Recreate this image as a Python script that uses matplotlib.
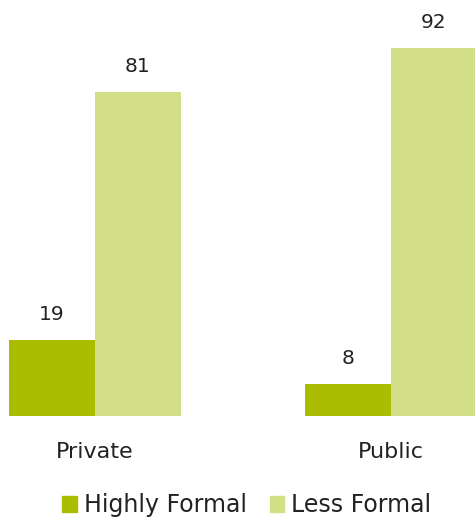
import numpy as np
import matplotlib.pyplot as plt
from matplotlib.patches import Patch

# sector shares by formality level
sectors = ['Private', 'Public']
highly_formal = [19, 8]
less_formal = [81, 92]

dark_green = '#abbd00'
light_green = '#d3df86'

W, H = 475, 523
fig = plt.figure(figsize=(W / 100, H / 100), dpi=100)
base_px = 416
ax = fig.add_axes([0, (H - base_px) / H, 1, base_px / H])

x = np.arange(len(sectors))
width = 0.29
b1 = ax.bar(x - width / 2, highly_formal, width, color=dark_green)
b2 = ax.bar(x + width / 2, less_formal, width, color=light_green)

for bars, vals in [(b1, highly_formal), (b2, less_formal)]:
    for rect, v in zip(bars, vals):
        ax.text(rect.get_x() + rect.get_width() / 2, v + 4.0, str(v),
                ha='center', va='bottom', fontsize=14.5, color='#222222')

ax.set_xlim(-95 / 296, (475 - 95) / 296)
ax.set_ylim(0, 104)
ax.set_xticks(x)
ax.set_xticklabels(sectors, fontsize=16, color='#222222')
ax.tick_params(axis='x', length=0, pad=18.5)
ax.set_yticks([])
for s in ax.spines.values():
    s.set_visible(False)

handles = [Patch(color=dark_green, label='Highly Formal'),
           Patch(color=light_green, label='Less Formal')]
fig.legend(handles=handles, loc='center', bbox_to_anchor=(0.52, (H - 505) / H),
           ncol=2, frameon=False, fontsize=17, handlelength=0.6, handleheight=0.65,
           handletextpad=0.3, columnspacing=1.0, labelcolor='#222222',
           borderpad=0, borderaxespad=0)

fig.savefig('out.png', dpi=100)
